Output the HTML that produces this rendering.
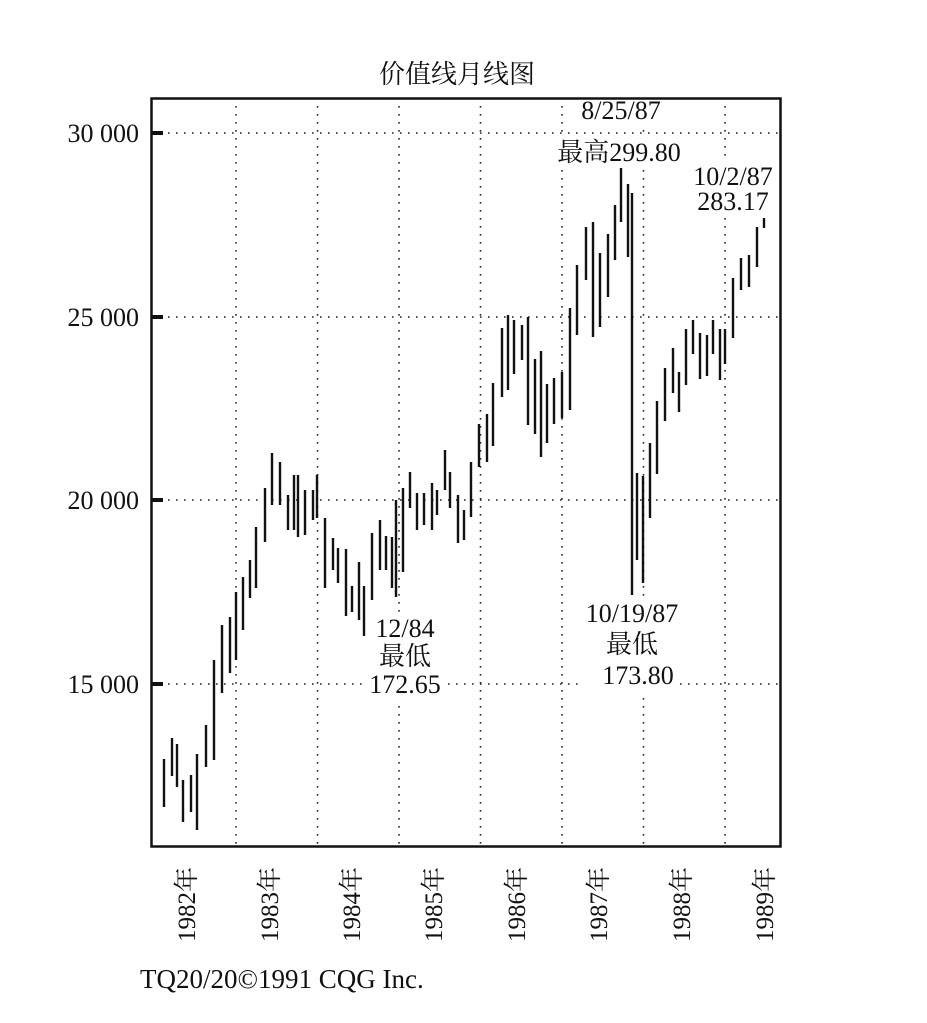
<!DOCTYPE html>
<html><head><meta charset="utf-8"><style>
html,body{margin:0;padding:0;background:#fff;}
svg{display:block;}
text{font-family:"Liberation Serif","Noto Serif CJK SC","Noto Sans CJK SC",serif;fill:#111;}
</style></head><body>
<svg width="927" height="1023" viewBox="0 0 927 1023" xmlns="http://www.w3.org/2000/svg">
<rect width="927" height="1023" fill="#fff"/>
<text x="457" y="83" font-size="26" text-anchor="middle">价值线月线图</text>
<g stroke="#222" stroke-width="1.6" stroke-dasharray="1.6 6.4">
<line x1="160" y1="133" x2="780" y2="133"/>
<line x1="160" y1="317" x2="780" y2="317"/>
<line x1="160" y1="500" x2="780" y2="500"/>
<line x1="160" y1="684" x2="780" y2="684"/>
<line x1="236" y1="106" x2="236" y2="845"/>
<line x1="317.5" y1="106" x2="317.5" y2="845"/>
<line x1="399" y1="106" x2="399" y2="845"/>
<line x1="480.5" y1="106" x2="480.5" y2="845"/>
<line x1="562" y1="106" x2="562" y2="845"/>
<line x1="643.5" y1="106" x2="643.5" y2="845"/>
<line x1="725" y1="106" x2="725" y2="845"/>
</g>
<g fill="#fff">
<rect x="364" y="614" width="82" height="86"/>
<rect x="582" y="600" width="98" height="92"/>
<rect x="555" y="136" width="132" height="32"/>
<rect x="580" y="100" width="84" height="26"/>
<rect x="690" y="160" width="88" height="56"/>
</g>
<rect x="151.5" y="98.5" width="629" height="748" fill="none" stroke="#111" stroke-width="2.5"/>
<g stroke="#111" stroke-width="4">
<line x1="151" y1="133" x2="163" y2="133"/><line x1="151" y1="317" x2="163" y2="317"/>
<line x1="151" y1="500" x2="163" y2="500"/><line x1="151" y1="684" x2="163" y2="684"/>
</g>
<g font-size="26" text-anchor="end">
<text x="139" y="142">30 000</text><text x="139" y="326">25 000</text>
<text x="139" y="509">20 000</text><text x="139" y="693">15 000</text>
</g>
<g stroke="#111" stroke-width="2.4">
<line x1="164" y1="759" x2="164" y2="807"/><line x1="172" y1="738" x2="172" y2="776"/>
<line x1="177" y1="744" x2="177" y2="787"/><line x1="183" y1="780" x2="183" y2="822"/>
<line x1="191" y1="775" x2="191" y2="812"/><line x1="197" y1="754" x2="197" y2="830"/>
<line x1="206" y1="725" x2="206" y2="767"/><line x1="214" y1="660" x2="214" y2="760"/>
<line x1="222" y1="625" x2="222" y2="693"/><line x1="230" y1="617" x2="230" y2="673"/>
<line x1="236" y1="592" x2="236" y2="660"/><line x1="243" y1="577" x2="243" y2="630"/>
<line x1="250" y1="560" x2="250" y2="598"/><line x1="256" y1="527" x2="256" y2="588"/>
<line x1="265" y1="488" x2="265" y2="542"/><line x1="272" y1="453" x2="272" y2="505"/>
<line x1="280" y1="462" x2="280" y2="505"/><line x1="288" y1="495" x2="288" y2="530"/>
<line x1="294" y1="475" x2="294" y2="530"/><line x1="298" y1="475" x2="298" y2="537"/>
<line x1="305" y1="490" x2="305" y2="535"/><line x1="313" y1="490" x2="313" y2="520"/>
<line x1="317" y1="475" x2="317" y2="518"/><line x1="325" y1="518" x2="325" y2="588"/>
<line x1="333" y1="538" x2="333" y2="570"/><line x1="338" y1="548" x2="338" y2="583"/>
<line x1="346" y1="549" x2="346" y2="616"/><line x1="352" y1="586" x2="352" y2="612"/>
<line x1="359" y1="562" x2="359" y2="620"/><line x1="364" y1="586" x2="364" y2="636"/>
<line x1="372" y1="533" x2="372" y2="600"/><line x1="380" y1="520" x2="380" y2="570"/>
<line x1="386" y1="536" x2="386" y2="570"/><line x1="392" y1="537" x2="392" y2="588"/>
<line x1="396" y1="500" x2="396" y2="597"/><line x1="403" y1="488" x2="403" y2="572"/>
<line x1="410" y1="472" x2="410" y2="508"/><line x1="417" y1="493" x2="417" y2="530"/>
<line x1="424" y1="493" x2="424" y2="525"/><line x1="432" y1="483" x2="432" y2="530"/>
<line x1="437" y1="490" x2="437" y2="515"/><line x1="445" y1="450" x2="445" y2="490"/>
<line x1="450" y1="472" x2="450" y2="508"/><line x1="458" y1="495" x2="458" y2="543"/>
<line x1="464" y1="510" x2="464" y2="540"/><line x1="471" y1="462" x2="471" y2="517"/>
<line x1="479" y1="424" x2="479" y2="467"/><line x1="487" y1="414" x2="487" y2="462"/>
<line x1="493" y1="383" x2="493" y2="446"/><line x1="502" y1="328" x2="502" y2="397"/>
<line x1="508" y1="315" x2="508" y2="390"/><line x1="514" y1="320" x2="514" y2="374"/>
<line x1="522" y1="325" x2="522" y2="360"/><line x1="528" y1="317" x2="528" y2="425"/>
<line x1="535" y1="359" x2="535" y2="434"/><line x1="541" y1="351" x2="541" y2="457"/>
<line x1="547" y1="384" x2="547" y2="443"/><line x1="554" y1="378" x2="554" y2="424"/>
<line x1="562" y1="372" x2="562" y2="418"/><line x1="570" y1="308" x2="570" y2="410"/>
<line x1="577" y1="265" x2="577" y2="335"/><line x1="586" y1="227" x2="586" y2="280"/>
<line x1="593" y1="222" x2="593" y2="337"/><line x1="600" y1="253" x2="600" y2="327"/>
<line x1="608" y1="234" x2="608" y2="297"/><line x1="615" y1="205" x2="615" y2="260"/>
<line x1="621" y1="168" x2="621" y2="222"/><line x1="628" y1="184" x2="628" y2="257"/>
<line x1="632" y1="193" x2="632" y2="595"/><line x1="637" y1="473" x2="637" y2="560"/>
<line x1="643" y1="476" x2="643" y2="583"/><line x1="650" y1="443" x2="650" y2="518"/>
<line x1="657" y1="401" x2="657" y2="474"/><line x1="665" y1="368" x2="665" y2="421"/>
<line x1="673" y1="348" x2="673" y2="393"/><line x1="679" y1="372" x2="679" y2="412"/>
<line x1="686" y1="329" x2="686" y2="385"/><line x1="693" y1="320" x2="693" y2="354"/>
<line x1="700" y1="333" x2="700" y2="379"/><line x1="707" y1="335" x2="707" y2="376"/>
<line x1="713" y1="320" x2="713" y2="354"/><line x1="720" y1="329" x2="720" y2="380"/>
<line x1="725" y1="329" x2="725" y2="364"/><line x1="733" y1="278" x2="733" y2="338"/>
<line x1="741" y1="258" x2="741" y2="290"/><line x1="749" y1="255" x2="749" y2="287"/>
<line x1="757" y1="227" x2="757" y2="267"/><line x1="764" y1="218" x2="764" y2="228"/>
</g>
<g font-size="26" text-anchor="middle">
<text x="405" y="637">12/84</text><text x="405" y="665">最低</text><text x="405" y="693">172.65</text>
<text x="632" y="622">10/19/87</text><text x="632" y="653">最低</text><text x="638" y="684">173.80</text>
<text x="621" y="119">8/25/87</text><text x="619" y="161">最高299.80</text>
<text x="733" y="185">10/2/87</text><text x="733" y="210">283.17</text>
</g>
<g font-size="25">
<text transform="translate(195,942) rotate(-90)">1982年</text>
<text transform="translate(278,942) rotate(-90)">1983年</text>
<text transform="translate(360,942) rotate(-90)">1984年</text>
<text transform="translate(442,942) rotate(-90)">1985年</text>
<text transform="translate(525,942) rotate(-90)">1986年</text>
<text transform="translate(607,942) rotate(-90)">1987年</text>
<text transform="translate(690,942) rotate(-90)">1988年</text>
<text transform="translate(773,942) rotate(-90)">1989年</text>
</g>
<text x="140" y="988" font-size="27">TQ20/20©1991 CQG Inc.</text>
</svg>
</body></html>
